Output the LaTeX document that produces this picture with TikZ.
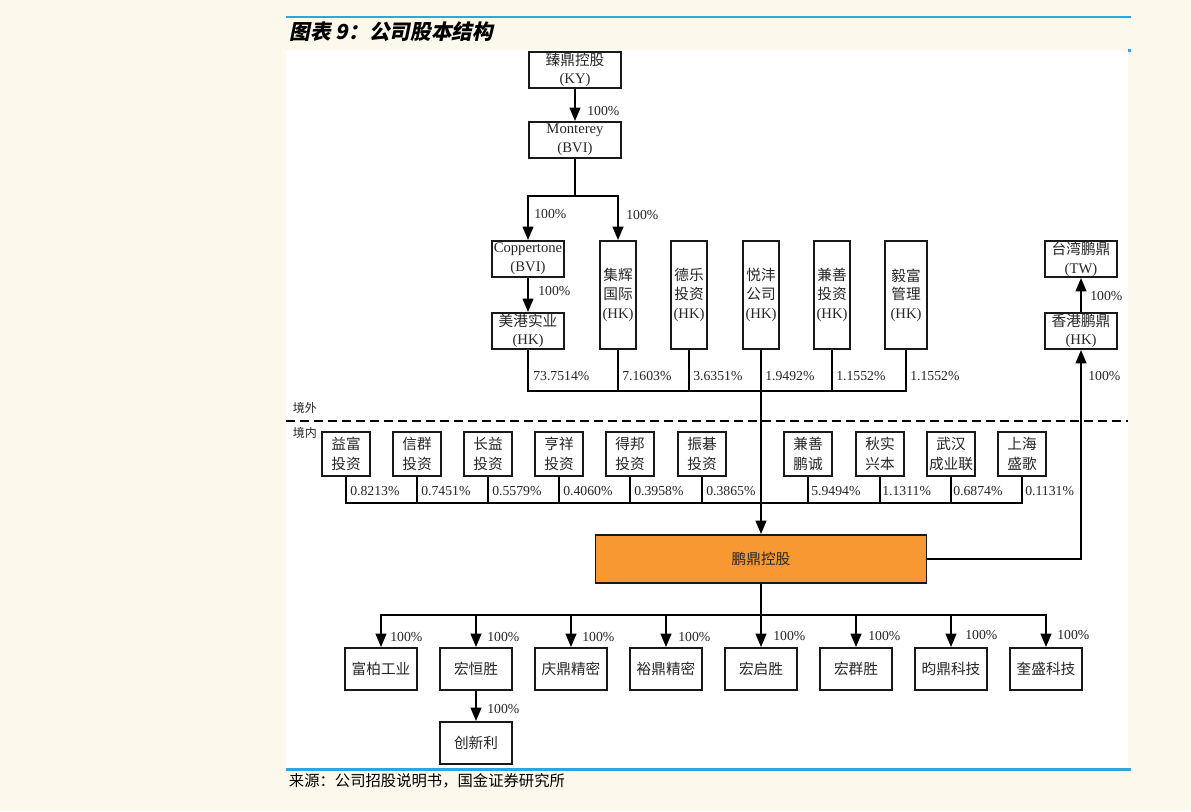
\documentclass[tikz,border=0pt]{standalone}
\usepackage{fontspec}
\setmainfont{Liberation Serif}
\newfontfamily\cjk{Noto Sans CJK SC}
\newfontfamily\cjktitle[FakeSlant=0.2]{Noto Sans CJK SC}
\usetikzlibrary{arrows.meta,positioning}
\definecolor{paper}{RGB}{253,248,236}
\definecolor{rule}{RGB}{41,168,224}
\definecolor{hold}{RGB}{247,152,51}

\begin{document}
\begin{tikzpicture}[x=0.75pt,y=-0.75pt,line width=1.4pt,>={Triangle[length=10pt,width=8pt]}]
\tikzstyle{box}=[draw=black!90,fill=white,inner sep=0pt,align=center,text=black!85,font=\fontsize{11}{14}\selectfont]
\tikzstyle{zbox}=[box,font=\cjk\fontsize{11}{15}\selectfont]
\tikzstyle{wbox}=[box,minimum width=54pt,minimum height=27pt]
\tikzstyle{tbox}=[box,minimum width=27pt,minimum height=81pt]
\tikzstyle{sbox}=[zbox,minimum width=36pt,minimum height=33pt]
\tikzstyle{bbox}=[zbox,minimum width=54pt,minimum height=31.5pt]
\tikzstyle{pct}=[anchor=west,inner sep=1pt,text=black!85,font=\fontsize{10.3}{12}\selectfont]
\tikzstyle{side}=[anchor=west,inner sep=0pt,text=black!85,font=\cjk\fontsize{9}{10}\selectfont]

\useasboundingbox (0,0) rectangle (1191,811);
\fill[paper] (0,0) rectangle (1191,811);
\fill[white] (286,50) rectangle (1128,768);
\draw[rule,line width=1.6pt] (286,17) -- (1131,17);
\draw[rule,line width=1.6pt] (286,769.5) -- (1131,769.5);
\draw[rule,line width=1.6pt] (1128,50.5) -- (1131,50.5);

\node [anchor=west,inner sep=0pt] (title) at (289,32) {\cjktitle\bfseries\fontsize{15.5}{18}\selectfont 图表 9：公司股本结构};
\node [anchor=west,inner sep=0pt] (src) at (288,781) {\cjk\fontsize{11.5}{13}\selectfont 来源：公司招股说明书，国金证券研究所};

\node [box,minimum width=69pt,minimum height=27pt] (0) at (575,70) {{\cjk 臻鼎控股}\\(KY)};
\node [box,minimum width=69pt,minimum height=27pt] (1) at (575,140) {Monterey\\(BVI)};
\node [wbox] (2) at (528,259) {Coppertone\\(BVI)};
\node [wbox] (3) at (528,331) {{\cjk 美港实业}\\(HK)};
\node [tbox] (4) at (618,295) {{\cjk 集辉}\\{\cjk 国际}\\(HK)};
\node [tbox] (5) at (689,295) {{\cjk 德乐}\\{\cjk 投资}\\(HK)};
\node [tbox] (6) at (761,295) {{\cjk 悦沣}\\{\cjk 公司}\\(HK)};
\node [tbox] (7) at (832,295) {{\cjk 兼善}\\{\cjk 投资}\\(HK)};
\node [tbox,minimum width=31.5pt] (8) at (906,295) {{\cjk 毅富}\\{\cjk 管理}\\(HK)};
\node [wbox] (9) at (1081,259) {{\cjk 台湾鹏鼎}\\(TW)};
\node [wbox] (10) at (1081,331) {{\cjk 香港鹏鼎}\\(HK)};

\node [sbox] (11) at (346,454) {益富\\投资};
\node [sbox] (12) at (417,454) {信群\\投资};
\node [sbox] (13) at (488,454) {长益\\投资};
\node [sbox] (14) at (559,454) {亨祥\\投资};
\node [sbox] (15) at (630,454) {得邦\\投资};
\node [sbox] (16) at (702,454) {振碁\\投资};
\node [sbox] (17) at (808,454) {兼善\\鹏诚};
\node [sbox] (18) at (880,454) {秋实\\兴本};
\node [sbox] (19) at (951,454) {武汉\\成业联};
\node [sbox] (20) at (1022,454) {上海\\盛歌};

\node [zbox,fill=hold,minimum width=248.25pt,minimum height=36pt] (21) at (761,559) {鹏鼎控股};

\node [bbox] (22) at (381,669) {富柏工业};
\node [bbox] (23) at (476,669) {宏恒胜};
\node [bbox] (24) at (571,669) {庆鼎精密};
\node [bbox] (25) at (666,669) {裕鼎精密};
\node [bbox] (26) at (761,669) {宏启胜};
\node [bbox] (27) at (856,669) {宏群胜};
\node [bbox] (28) at (951,669) {昀鼎科技};
\node [bbox] (29) at (1046,669) {奎盛科技};
\node [bbox] (30) at (476,743) {创新利};

\coordinate (up) at (761,391);
\coordinate (dn) at (761,503);
\coordinate (sub) at (761,615);

\draw[dash pattern=on 6.75pt off 3.75pt,line width=1.2pt] (286,421) -- (1128,421);
\node [side] (out) at (292,408) {境外};
\node [side] (in) at (292,433) {境内};

\draw[->] (0) -- (1);
\draw[->] (1.south) -- ++(0,37) -| (2.north);
\draw[->] (1.south) -- ++(0,37) -| (4.north);
\draw[->] (2) -- (3);
\draw (3.south) |- (up);
\draw (4.south) |- (up);
\draw (5.south) |- (up);
\draw (7.south) |- (up);
\draw (8.south) |- (up);
\draw[->] (6.south) -- (21.north);
\draw (11.south) |- (dn);
\draw (12.south) |- (dn);
\draw (13.south) |- (dn);
\draw (14.south) |- (dn);
\draw (15.south) |- (dn);
\draw (16.south) |- (dn);
\draw (17.south) |- (dn);
\draw (18.south) |- (dn);
\draw (19.south) |- (dn);
\draw (20.south) |- (dn);
\draw[->] (21.east) -| (10.south);
\draw[->] (10) -- (9);
\draw (21.south) -- (sub);
\draw[->] (sub) -| (22.north);
\draw[->] (sub) -| (23.north);
\draw[->] (sub) -| (24.north);
\draw[->] (sub) -| (25.north);
\draw[->] (sub) -- (26.north);
\draw[->] (sub) -| (27.north);
\draw[->] (sub) -| (28.north);
\draw[->] (sub) -| (29.north);
\draw[->] (23) -- (30);

\node [pct] (p0) at (585,111) {100\%};
\node [pct] (p1) at (532,214) {100\%};
\node [pct] (p2) at (624,215) {100\%};
\node [pct] (p3) at (536,291) {100\%};
\node [pct] (p4) at (531,376) {73.7514\%};
\node [pct] (p5) at (620,376) {7.1603\%};
\node [pct] (p6) at (691,376) {3.6351\%};
\node [pct] (p7) at (763,376) {1.9492\%};
\node [pct] (p8) at (834,376) {1.1552\%};
\node [pct] (p9) at (908,376) {1.1552\%};
\node [pct] (p10) at (1088,296) {100\%};
\node [pct] (p11) at (1086,376) {100\%};
\node [pct] (p12) at (348,491) {0.8213\%};
\node [pct] (p13) at (419,491) {0.7451\%};
\node [pct] (p14) at (490,491) {0.5579\%};
\node [pct] (p15) at (561,491) {0.4060\%};
\node [pct] (p16) at (632,491) {0.3958\%};
\node [pct] (p17) at (704,491) {0.3865\%};
\node [pct] (p18) at (809,491) {5.9494\%};
\node [pct] (p19) at (880,491) {1.1311\%};
\node [pct] (p20) at (951,491) {0.6874\%};
\node [pct] (p21) at (1023,491) {0.1131\%};
\node [pct] (p22) at (388,637) {100\%};
\node [pct] (p23) at (485,637) {100\%};
\node [pct] (p24) at (580,637) {100\%};
\node [pct] (p25) at (676,637) {100\%};
\node [pct] (p26) at (771,636) {100\%};
\node [pct] (p27) at (866,636) {100\%};
\node [pct] (p28) at (963,635) {100\%};
\node [pct] (p29) at (1055,635) {100\%};
\node [pct] (p30) at (485,709) {100\%};
\end{tikzpicture}
\end{document}
